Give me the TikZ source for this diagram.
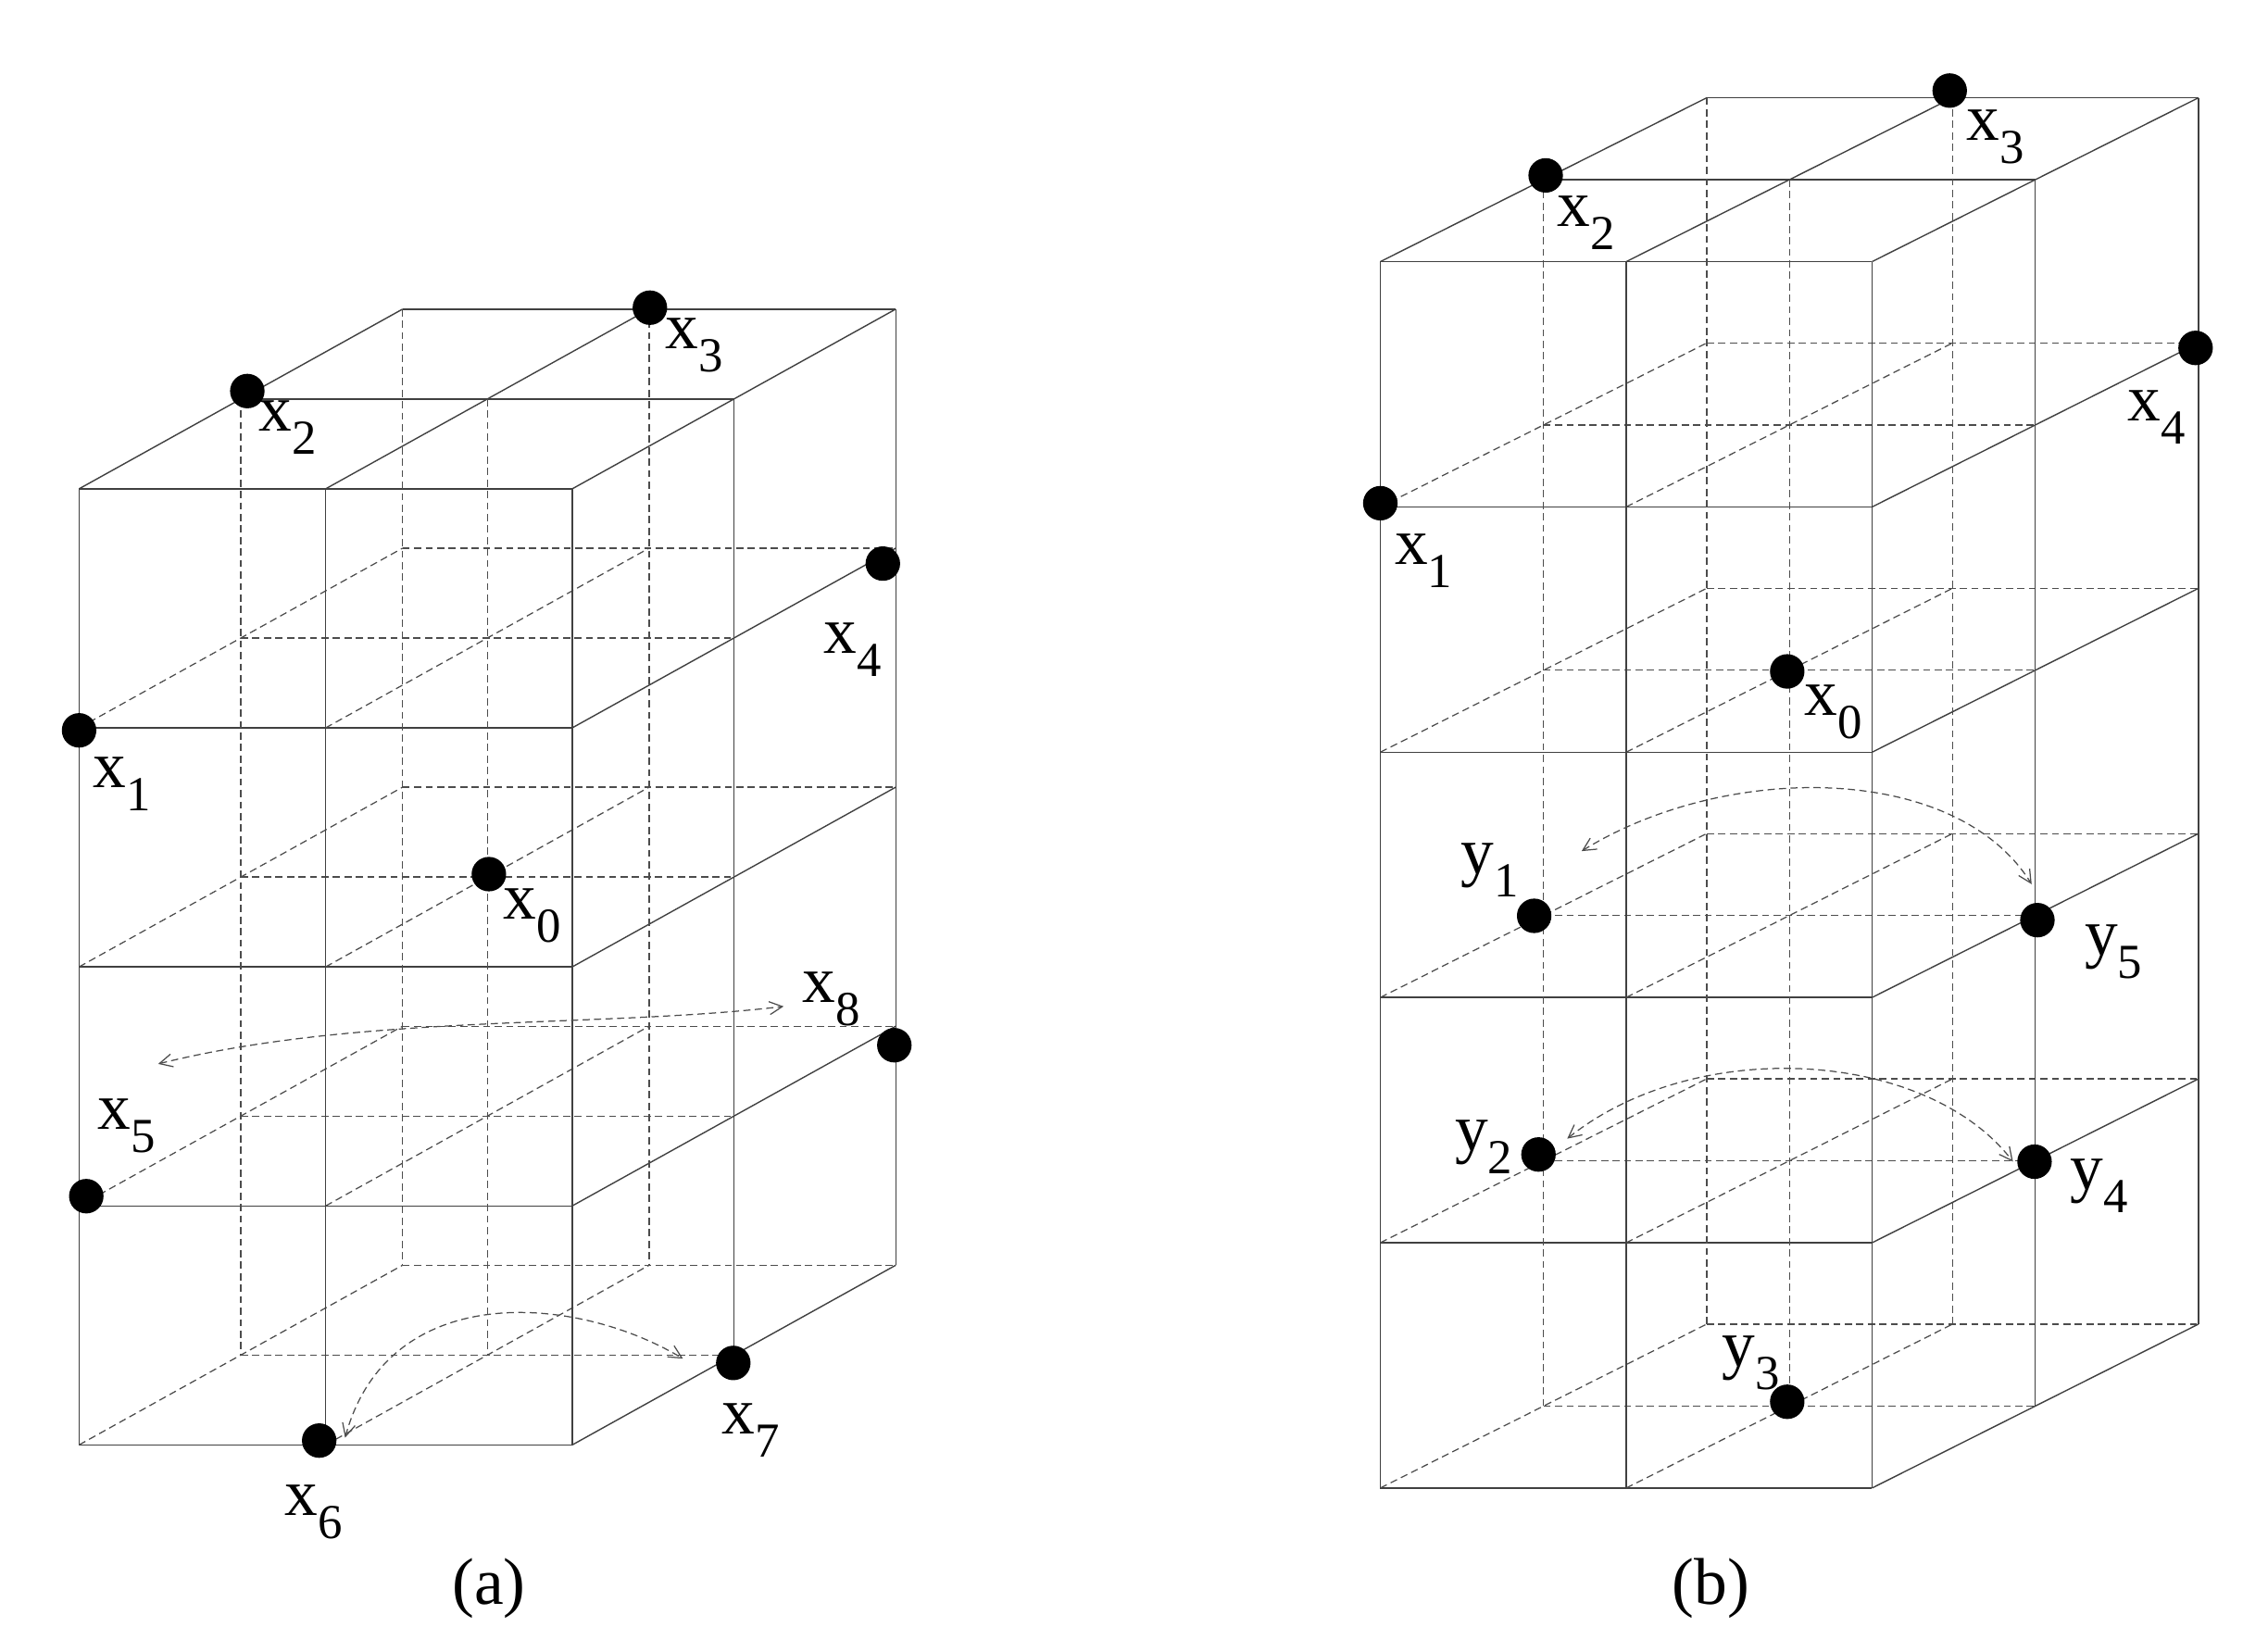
\documentclass[tikz,border=0pt]{standalone}
\usepackage{fontspec}
\setmainfont{Liberation Serif}
\usetikzlibrary{arrows.meta}
\newcommand\lab[2]{#1\raisebox{-0.35em}{\fontsize{34}{34}\selectfont #2}}
% ox oy xs dx dy zs Z
\newcommand\drawbox[7]{%
  \foreach \d in {0,1,2}{\foreach \z in {0,...,#7}{%
    \pgfmathtruncatemacro\s{(\d==0)||(\z==0)}%
    \ifnum\s=1 \def\st{sl}\else\def\st{dl}\fi
    \draw[\st] ({#1+\d*#4},{#2+\z*#6+\d*#5}) -- ({#1+2*#3+\d*#4},{#2+\z*#6+\d*#5});}}
  \foreach \i in {0,1,2}{\foreach \z in {0,...,#7}{%
    \pgfmathtruncatemacro\s{(\i==2)||(\z==0)}%
    \ifnum\s=1 \def\st{sl}\else\def\st{dl}\fi
    \draw[\st] ({#1+\i*#3},{#2+\z*#6}) -- ({#1+\i*#3+2*#4},{#2+\z*#6+2*#5});}}
  \foreach \i in {0,1,2}{\foreach \d in {0,1,2}{%
    \pgfmathtruncatemacro\s{(\i==2)||(\d==0)}%
    \ifnum\s=1 \def\st{sl}\else\def\st{dl}\fi
    \draw[\st] ({#1+\i*#3+\d*#4},{#2+\d*#5}) -- ({#1+\i*#3+\d*#4},{#2+#7*#6+\d*#5});}}%
}
\begin{document}
\begin{tikzpicture}[x=1pt,y=-1pt,
  sl/.style={line width=0.9pt,black!75},
  dl/.style={line width=0.8pt,black!70,dash pattern=on 5pt off 3pt},
  dot/.style={circle,fill=black,inner sep=0pt,minimum size=24pt},
  lbl/.style={font=\fontsize{46}{50}\selectfont,inner sep=0pt},
  arr/.style={line width=0.8pt,black!70,dash pattern=on 5pt off 3pt,{Straight Barb[length=9pt,width=9pt]}-{Straight Barb[length=9pt,width=9pt]}}]
\useasboundingbox (0,0) rectangle (1560,1149);
\drawbox{55}{340}{171.5}{112.5}{-62.5}{166.25}{4}
\drawbox{960}{182}{171}{113.5}{-57}{170.6}{5}
% (a) points
\node[dot] (a0) at (340,608) {}; \node[lbl] at (370,637) {\lab{x}{0}};
\node[dot] (a1) at (55,508) {};  \node[lbl] at (85,545) {\lab{x}{1}};
\node[dot] (a2) at (172,272) {}; \node[lbl] at (200,297) {\lab{x}{2}};
\node[dot] (a3) at (452,214) {}; \node[lbl] at (483,240) {\lab{x}{3}};
\node[dot] (a4) at (614,392) {}; \node[lbl] at (593,452) {\lab{x}{4}};
\node[dot] (a5) at (60,832) {};  \node[lbl] at (88,783) {\lab{x}{5}};
\node[dot] (a6) at (222,1002) {};\node[lbl] at (218,1052) {\lab{x}{6}};
\node[dot] (a7) at (510,948) {}; \node[lbl] at (522,995) {\lab{x}{7}};
\node[dot] (a8) at (622,727) {}; \node[lbl] at (578,695) {\lab{x}{8}};
\coordinate (c1) at (110,740); \coordinate (c2) at (545,700);
\draw[arr] (c1) .. controls (250,705) and (420,715) .. (c2);
\coordinate (c3) at (240,1000); \coordinate (c4) at (475,945);
\draw[arr] (c3) .. controls (270,890) and (400,900) .. (c4);
\node[lbl] (la) at (340,1105) {(a)};
% (b) points
\node[dot] (b0) at (1243,467) {}; \node[lbl] at (1275,495) {\lab{x}{0}};
\node[dot] (b1) at (960,350) {};  \node[lbl] at (990,390) {\lab{x}{1}};
\node[dot] (b2) at (1075,122) {}; \node[lbl] at (1103,155) {\lab{x}{2}};
\node[dot] (b3) at (1356,63) {};  \node[lbl] at (1388,95) {\lab{x}{3}};
\node[dot] (b4) at (1527,242) {}; \node[lbl] at (1500,290) {\lab{x}{4}};
\node[dot] (y1) at (1067,637) {}; \node[lbl] at (1036,605) {\lab{y}{1}};
\node[dot] (y2) at (1070,803) {}; \node[lbl] at (1032,798) {\lab{y}{2}};
\node[dot] (y3) at (1243,975) {}; \node[lbl] at (1218,948) {\lab{y}{3}};
\node[dot] (y4) at (1415,808) {}; \node[lbl] at (1460,825) {\lab{y}{4}};
\node[dot] (y5) at (1417,640) {}; \node[lbl] at (1470,662) {\lab{y}{5}};
\coordinate (d1) at (1100,592); \coordinate (d2) at (1413,615);
\draw[arr] (d1) .. controls (1200,530) and (1360,530) .. (d2);
\coordinate (d3) at (1090,792); \coordinate (d4) at (1400,808);
\draw[arr] (d3) .. controls (1180,720) and (1340,730) .. (d4);
\node[lbl] (lb) at (1190,1105) {(b)};
\end{tikzpicture}
\end{document}
